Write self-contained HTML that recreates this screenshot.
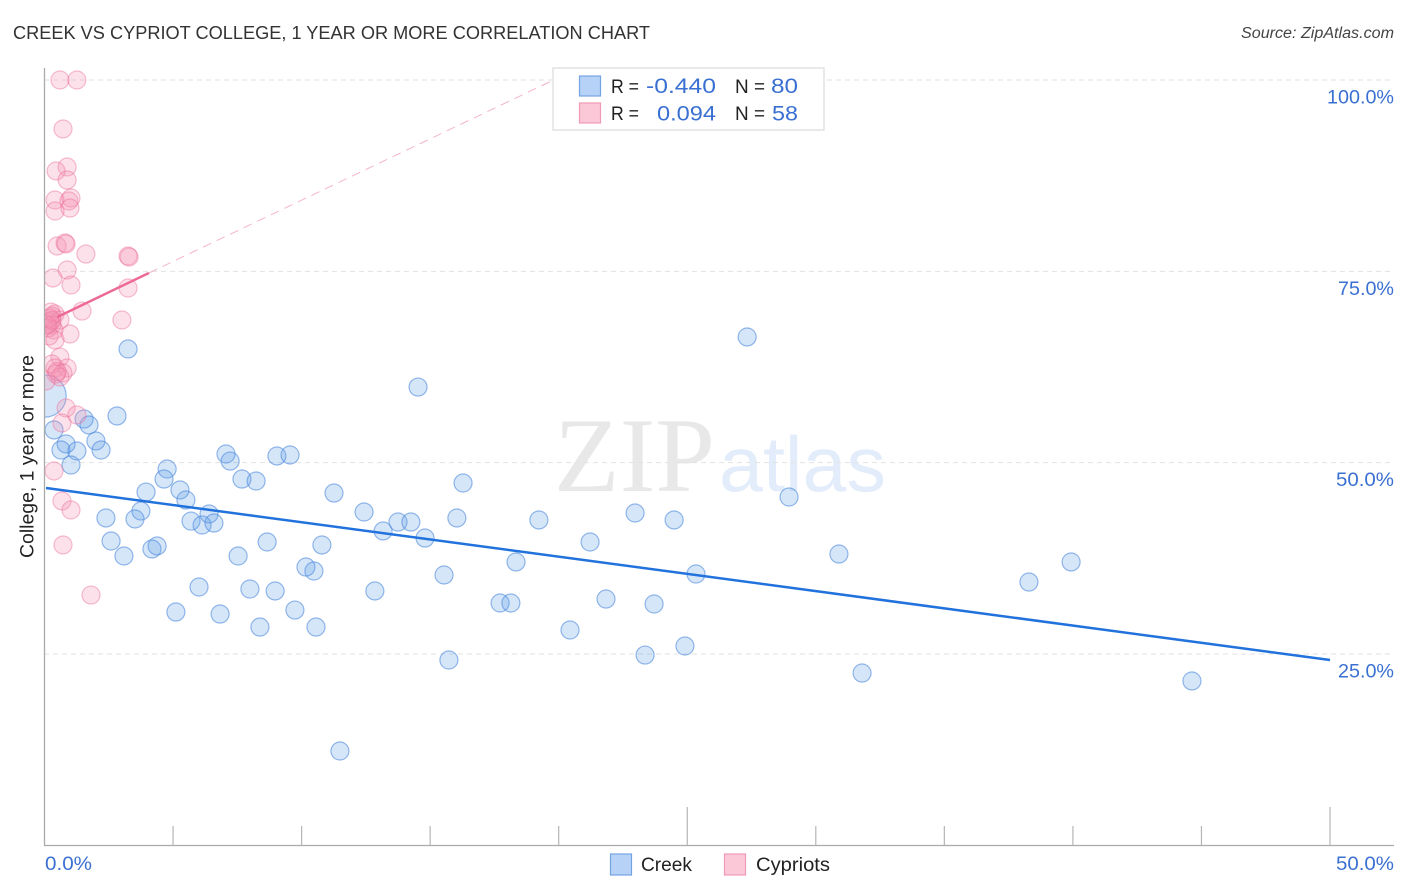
<!DOCTYPE html>
<html lang="en">
<head>
<meta charset="utf-8">
<title>Creek vs Cypriot College, 1 Year or More Correlation Chart</title>
<style>
html,body{margin:0;padding:0;background:#fff;}
svg{display:block;font-family:"Liberation Sans",sans-serif;}
</style>
</head>
<body>
<svg id="chart" width="1406" height="892" viewBox="0 0 1406 892" xmlns="http://www.w3.org/2000/svg">
  <defs>
    <clipPath id="plot-clip"><rect x="45" y="60" width="1349" height="785"/></clipPath>
  </defs>
  <text x="13" y="39" font-size="18.5" fill="#333" textLength="637" lengthAdjust="spacingAndGlyphs">CREEK VS CYPRIOT COLLEGE, 1 YEAR OR MORE CORRELATION CHART</text>
  <text x="1241" y="38" font-size="15.5" font-style="italic" fill="#444" textLength="153" lengthAdjust="spacingAndGlyphs">Source: ZipAtlas.com</text>
  <g>
    <text x="554" y="491" font-family="'Liberation Serif',serif" font-size="106" fill="#e8e8e8" textLength="161" lengthAdjust="spacingAndGlyphs">ZIP</text>
    <text x="719" y="491" font-size="78" fill="#e2ecfa" textLength="167" lengthAdjust="spacingAndGlyphs">atlas</text>
  </g>
  <g id="grid"></g>
  <g id="trend-back"></g>
  <g id="blue-points" clip-path="url(#plot-clip)"></g>
  <g id="pink-points" clip-path="url(#plot-clip)"></g>
  <g id="trends"></g>
  <g id="axes"></g>
  <text transform="translate(33.5,558) rotate(-90)" font-size="19" fill="#222" textLength="203" lengthAdjust="spacingAndGlyphs">College, 1 year or more</text>

  <g>
    <rect x="553" y="68" width="271" height="62" fill="#fff" stroke="#ddd" stroke-width="1.3"/>
    <rect x="579.5" y="76" width="21" height="20" fill="#b6d2f7" stroke="#74a3e3" stroke-width="1.2"/>
    <rect x="579.5" y="103" width="21" height="20" fill="#fbc8d8" stroke="#f09ab8" stroke-width="1.2"/>
    <g font-size="19.5" fill="#222">
      <text x="611" y="93" textLength="28" lengthAdjust="spacingAndGlyphs">R =</text>
      <text x="735" y="93" textLength="30" lengthAdjust="spacingAndGlyphs">N =</text>
      <text x="611" y="120" textLength="28" lengthAdjust="spacingAndGlyphs">R =</text>
      <text x="735" y="120" textLength="30" lengthAdjust="spacingAndGlyphs">N =</text>
    </g>
    <g font-size="21.5" fill="#3a70d2">
      <text x="646" y="93" textLength="70" lengthAdjust="spacingAndGlyphs">-0.440</text>
      <text x="771" y="93" textLength="27" lengthAdjust="spacingAndGlyphs">80</text>
      <text x="657" y="120.5" textLength="59" lengthAdjust="spacingAndGlyphs">0.094</text>
      <text x="772" y="120.5" textLength="26" lengthAdjust="spacingAndGlyphs">58</text>
    </g>
  </g>

  <g>
    <rect x="610.5" y="854" width="21" height="21" fill="#b6d2f7" stroke="#74a3e3" stroke-width="1.2"/>
    <text x="641" y="871" font-size="19" fill="#222" textLength="51" lengthAdjust="spacingAndGlyphs">Creek</text>
    <rect x="724.5" y="854" width="21" height="21" fill="#fbc8d8" stroke="#f09ab8" stroke-width="1.2"/>
    <text x="756" y="871" font-size="19" fill="#222" textLength="74" lengthAdjust="spacingAndGlyphs">Cypriots</text>
  </g>
</svg>
<script>
const creekX = [3.25,27.33,14.53,2.82,1.54,1.73,0.37,0.84,2.0,0.64,1.26,2.2,1.03,4.77,4.65,3.95,5.27,5.5,7.06,7.22,7.68,8.23,9.04,9.55,11.26,16.28,28.96,3.75,2.39,3.52,5.7,6.13,6.4,6.59,12.43,13.17,13.75,14.25,14.8,16.04,19.23,22.97,24.49,2.59,3.09,4.18,4.38,7.53,8.66,10.79,21.22,30.9,10.17,10.48,6.01,7.99,8.97,12.85,15.54,18.34,25.34,38.29,39.93,5.11,6.83,9.74,17.72,18.14,21.84,23.71,8.38,10.56,20.44,15.73,23.36,24.91,31.8,44.63,11.49,0.02];
const creekY = [64.85,66.42,59.88,56.1,55.7,54.92,54.27,52.44,52.83,51.65,51.52,51.65,49.69,49.17,47.86,46.16,46.43,45.12,51.13,50.21,47.86,47.6,50.87,51,46.03,47.34,45.51,43.68,42.77,42.64,42.37,41.85,43.29,42.11,43.55,41.07,42.24,42.24,40.15,42.77,42.51,43.42,42.51,39.76,37.8,38.72,39.11,37.8,39.63,39.24,39.63,38.06,36.36,35.84,33.75,33.49,33.23,33.23,35.32,37.02,35.45,34.4,37.02,30.48,30.22,30.74,31.66,31.66,32.18,31.53,28.52,28.52,28.13,24.21,24.86,26.04,22.51,21.47,12.32,58.71];
const creekWeight = [1,1,1,1,1,1,1,1,1,1,1,1,1,1,1,1,1,1,1,1,1,1,1,1,1,1,1,1,1,1,1,1,1,1,1,1,1,1,1,1,1,1,1,1,1,1,1,1,1,1,1,1,1,1,1,1,1,1,1,1,1,1,1,1,1,1,1,1,1,1,1,1,1,1,1,1,1,1,1,2.35];
const cypriotsX = [0.6,1.26,0.72,0.88,0.45,0.88,0.41,0.95,1.03,0.41,0.99,0.49,0.8,0.84,1.61,3.25,3.29,0.88,0.33,1.03,3.25,0.25,1.46,3.01,0.41,0.29,0.6,0.21,0.29,0.14,0.37,0.99,0.18,0.41,0.6,0.29,0.88,0.41,0.72,0.45,0.6,0.06,0.84,1.26,0.68,0.37,0.68,1.03,0.72,1.81,0.21,0.1,0.29,0.49];
const cypriotsY = [100,100,93.6,88.63,88.11,86.93,84.32,84.19,84.58,82.88,83.27,78.31,78.7,78.57,77.26,77,76.87,75.17,74.13,73.21,72.82,69.68,69.81,68.64,69.42,69.16,68.64,68.38,67.99,67.59,67.33,66.81,66.55,66.03,63.8,62.89,62.37,62.37,61.71,61.58,61.19,60.67,57.14,56.23,55.18,48.91,44.99,43.81,39.24,32.7,68.9,68.0,68.6,61.9];
const creekTrendX = [0.06,50];
const creekTrendY = [46.69,24.21];
const cypriotsTrendX = [0.5,4.06];
const cypriotsTrendY = [69.03,74.78];
const cypriotsExtensionX = [4.06,19.8];
const cypriotsExtensionY = [74.78,100];
const yTicks = [100,75,50,25];
const yTickLabels = ["100.0%","75.0%","50.0%","25.0%"];
const yTickLabelWidths = [67,56,58,56];
const xTicks = [0,5,10,15,20,25,30,35,40,45,50];
const xMajorTicks = [25,50];
const xEndLabels = ["0.0%","50.0%"];

const NS = 'http://www.w3.org/2000/svg';
const xScale = v => 44.5 + v * 25.71;
const yScale = v => 80 + (100 - v) * 7.653;
const R = 9;

function make(parent, tag, props) {
  const el = document.createElementNS(NS, tag);
  for (const k in props) el.setAttribute(k, props[k]);
  document.getElementById(parent).appendChild(el);
  return el;
}

yTicks.forEach((t, i) => {
  const g = make('grid', 'line', {x1:44, x2:1394, y1:yScale(t), y2:yScale(t), stroke:'#e2e2e2', 'stroke-width':1, 'stroke-dasharray':'5 4'});
  
  
  const l = make('axes', 'text', {x:1394 - yTickLabelWidths[i], y:yScale(t) + 23.5, 'font-size':19.5, fill:'#3a70d2', textLength:yTickLabelWidths[i], lengthAdjust:'spacingAndGlyphs'});
  l.textContent = yTickLabels[i];
  
  
});

const ext = make('trend-back', 'line', {x1:xScale(cypriotsExtensionX[0]), y1:yScale(cypriotsExtensionY[0]), x2:xScale(cypriotsExtensionX[1]), y2:yScale(cypriotsExtensionY[1]), stroke:'#f5b4ca', 'stroke-width':1, 'stroke-dasharray':'9 6'});



creekX.forEach((x, i) => {
  const c = make('blue-points', 'circle', {cx:xScale(x), cy:yScale(creekY[i]), r:R * creekWeight[i], fill:'#5c9ce8', 'fill-opacity':0.25, stroke:'#4f8bdc', 'stroke-opacity':0.6, 'stroke-width':1.2});
  
  
});

cypriotsX.forEach((x, i) => {
  const c = make('pink-points', 'circle', {cx:xScale(x), cy:yScale(cypriotsY[i]), r:R, fill:'#f58fb0', 'fill-opacity':0.27, stroke:'#ec6f98', 'stroke-opacity':0.45, 'stroke-width':1.2});
  
  
});

const blueLine = make('trends', 'line', {x1:xScale(creekTrendX[0]), y1:yScale(creekTrendY[0]), x2:xScale(creekTrendX[1]), y2:yScale(creekTrendY[1]), stroke:'#2172dc', 'stroke-width':2.5});


const pinkLine = make('trends', 'line', {x1:xScale(cypriotsTrendX[0]), y1:yScale(cypriotsTrendY[0]), x2:xScale(cypriotsTrendX[1]), y2:yScale(cypriotsTrendY[1]), stroke:'#ec6a94', 'stroke-width':2.5});



const yAxis = make('axes', 'line', {x1:44.5, x2:44.5, y1:68, y2:846, stroke:'#aaa', 'stroke-width':1.3});


const xAxis = make('axes', 'line', {x1:44, x2:1394, y1:845.5, y2:845.5, stroke:'#aaa', 'stroke-width':1.3});



xTicks.slice(1).forEach(t => {
  const top = xMajorTicks.includes(t) ? 807 : 826;
  const tk = make('axes', 'line', {x1:xScale(t), x2:xScale(t), y1:top, y2:845, stroke:'#b5b5b5', 'stroke-width':1.2});
  
  
});

const x0 = make('axes', 'text', {x:45, y:870, 'font-size':19.5, fill:'#3a70d2', textLength:47, lengthAdjust:'spacingAndGlyphs'});
x0.textContent = xEndLabels[0];


const x50 = make('axes', 'text', {x:1336, y:870, 'font-size':19.5, fill:'#3a70d2', textLength:58, lengthAdjust:'spacingAndGlyphs'});
x50.textContent = xEndLabels[1];


</script>
</body>
</html>
